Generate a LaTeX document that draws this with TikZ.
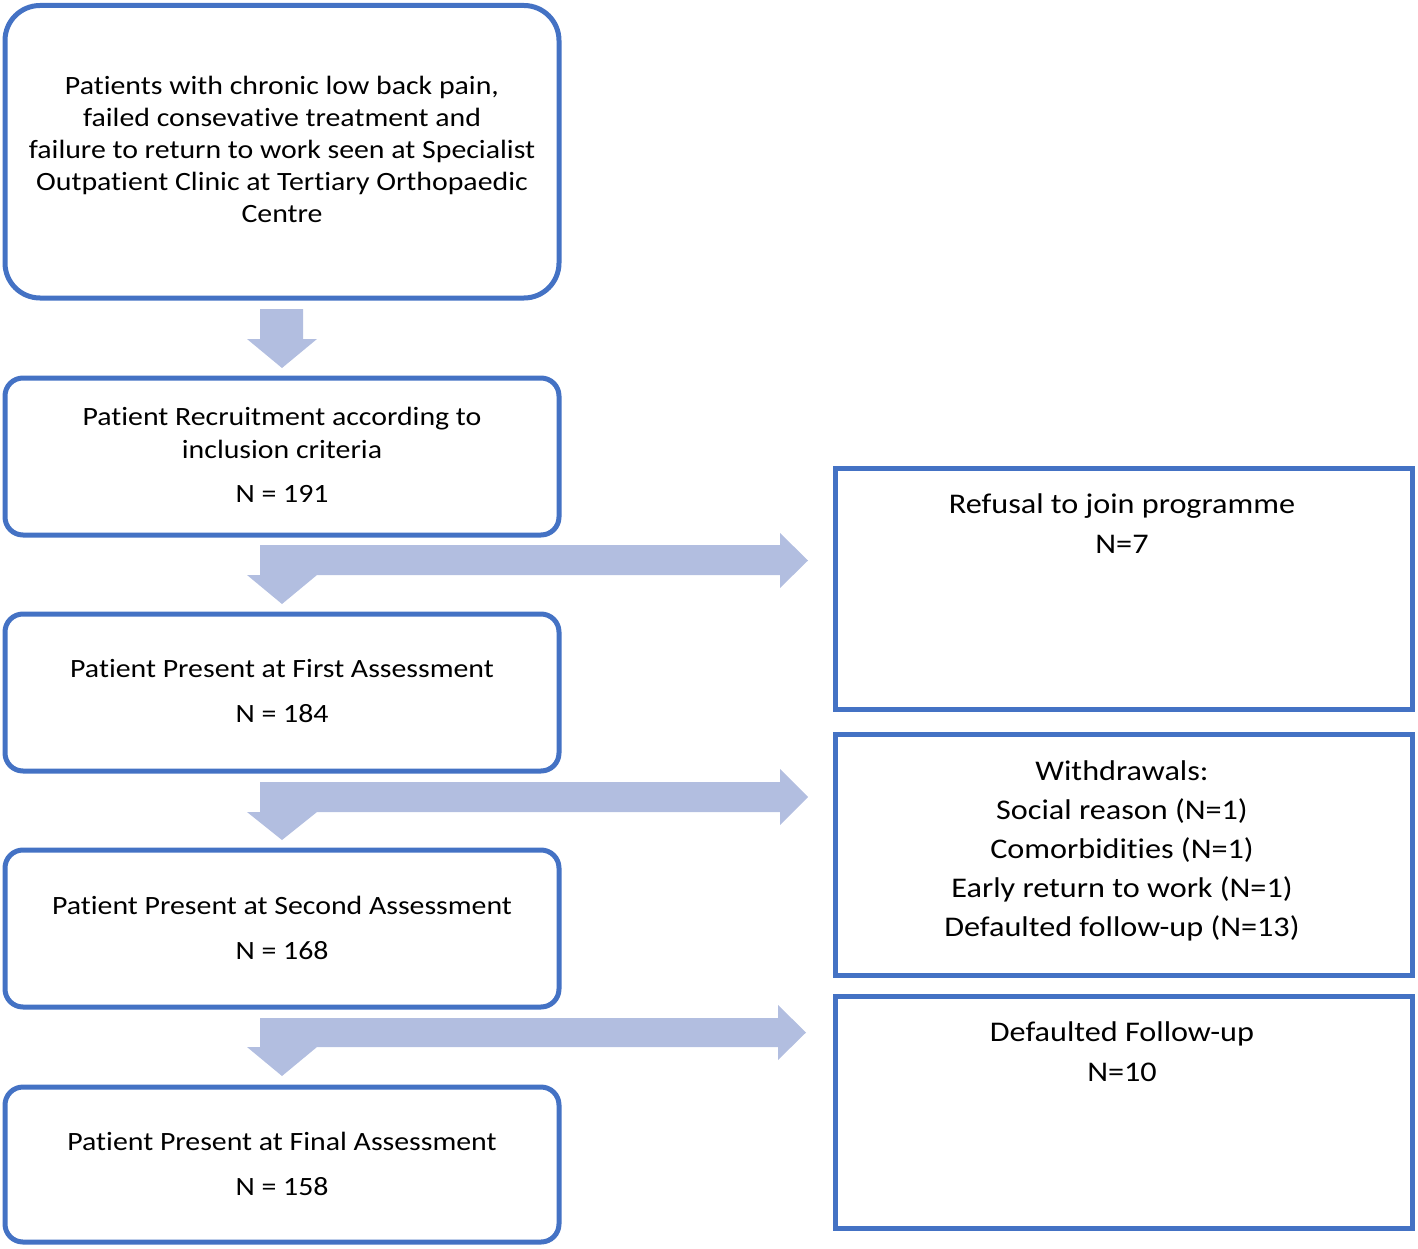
\documentclass[tikz,border=0pt]{standalone}
\usepackage{fontspec}
\setmainfont[FakeStretch=1.13,Ligatures=NoCommon]{Carlito}
\definecolor{boxblue}{HTML}{4472C4}
\definecolor{arrowblue}{RGB}{178,190,224}
\begin{document}
\begin{tikzpicture}[x=1pt,y=-1pt,
  lbox/.style={draw=boxblue, line width=5pt, rounded corners=18pt, inner sep=0pt, minimum width=554pt},
  rbox/.style={draw=boxblue, line width=5pt, inner sep=0pt, minimum width=577pt},
  ltxt/.style={anchor=base, inner sep=0pt, font=\fontsize{26.4}{32}\selectfont},
  rtxt/.style={anchor=base, inner sep=0pt, font=\fontsize{28.5}{39}\selectfont},
  blockarrow/.style={fill=arrowblue, draw=none}]
\useasboundingbox (0,0) rectangle (1418,1249);

% block arrows
\fill[blockarrow] (260,309) -- (303,309) -- (303,339) -- (317,339) -- (282,368) -- (247,339) -- (260,339) -- cycle;
\fill[blockarrow] (260,545) -- (780,545) -- (780,533) -- (808,560.5) -- (780,588) -- (780,575) -- (317,575) -- (282,604) -- (247,575) -- (260,575) -- cycle;
\fill[blockarrow] (260,782) -- (780,782) -- (780,769) -- (808,797) -- (780,825) -- (780,812) -- (317,812) -- (282,840) -- (247,812) -- (260,812) -- cycle;
\fill[blockarrow] (260,1018) -- (778,1018) -- (778,1005) -- (806,1032.5) -- (778,1060) -- (778,1047) -- (317,1047) -- (282,1076) -- (247,1047) -- (260,1047) -- cycle;

% left boxes
\node[lbox, rounded corners=35pt, minimum height=292.5pt] (b1) at (282,151.75) {};
\node[lbox, minimum height=157pt] (b2) at (282,456.5) {};
\node[lbox, minimum height=157pt] (b3) at (282,692.5) {};
\node[lbox, minimum height=157pt] (b4) at (282,928.5) {};
\node[lbox, minimum height=155pt] (b5) at (282,1164.5) {};

% right boxes
\node[rbox, minimum height=241pt] (r1) at (1123.5,588.5) {};
\node[rbox, minimum height=241pt] (r2) at (1123.5,854.5) {};
\node[rbox, minimum height=232pt] (r3) at (1123.5,1112) {};

% texts box 1
\node[ltxt] (t1a) at (282,94.5) {Patients with chronic low back pain,};
\node[ltxt] (t1b) at (282,126.5) {failed consevative treatment and};
\node[ltxt] (t1c) at (282,158.5) {failure to return to work seen at Specialist};
\node[ltxt] (t1d) at (282,190.5) {Outpatient Clinic at Tertiary Orthopaedic};
\node[ltxt] (t1e) at (282,222.5) {Centre};

\node[ltxt] (t2a) at (282,425.7) {Patient Recruitment according to};
\node[ltxt] (t2b) at (282,458) {inclusion criteria};
\node[ltxt] (t2c) at (282,502) {N = 191};

\node[ltxt] (t3a) at (282,677.5) {Patient Present at First Assessment};
\node[ltxt] (t3b) at (282,722) {N = 184};

\node[ltxt] (t4a) at (282,914.5) {Patient Present at Second Assessment};
\node[ltxt] (t4b) at (282,959) {N = 168};

\node[ltxt] (t5a) at (282,1150.5) {Patient Present at Final Assessment};
\node[ltxt] (t5b) at (282,1195) {N = 158};

% right texts
\node[rtxt] (s1a) at (1122,513.3) {Refusal to join programme};
\node[rtxt] (s1b) at (1122,553.3) {N=7};

\node[rtxt] (s2a) at (1122,780) {Withdrawals:};
\node[rtxt] (s2b) at (1122,819) {Social reason (N=1)};
\node[rtxt] (s2c) at (1122,858) {Comorbidities (N=1)};
\node[rtxt] (s2d) at (1122,897) {Early return to work (N=1)};
\node[rtxt] (s2e) at (1122,936) {Defaulted follow-up (N=13)};

\node[rtxt] (s3a) at (1122,1041) {Defaulted Follow-up};
\node[rtxt] (s3b) at (1122,1081) {N=10};
\end{tikzpicture}
\end{document}
